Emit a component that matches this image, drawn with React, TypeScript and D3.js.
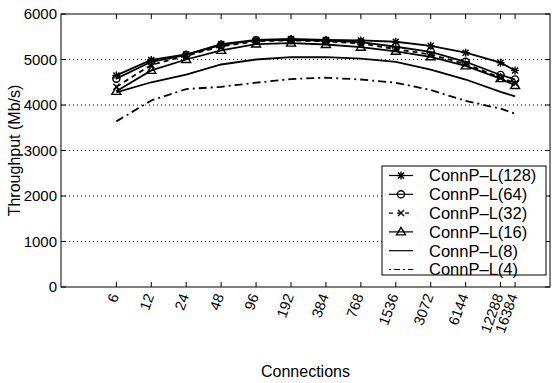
import React from "react";
import * as d3 from "d3";

const connections = [6, 12, 24, 48, 96, 192, 384, 768, 1536, 3072, 6144, 12288, 16384];
const p128 = [4650, 4990, 5110, 5340, 5430, 5450, 5430, 5420, 5390, 5300, 5150, 4930, 4760];
const p64 = [4580, 4950, 5100, 5320, 5420, 5430, 5410, 5380, 5280, 5170, 4950, 4660, 4560];
const p32 = [4400, 4880, 5080, 5290, 5400, 5420, 5400, 5350, 5230, 5110, 4900, 4600, 4480];
const p16 = [4300, 4760, 5000, 5200, 5340, 5360, 5330, 5270, 5180, 5060, 4860, 4580, 4430];
const p8 = [4280, 4500, 4670, 4890, 5000, 5050, 5050, 5020, 4950, 4780, 4560, 4290, 4190];
const p4 = [3640, 4100, 4350, 4400, 4490, 4570, 4600, 4560, 4490, 4330, 4090, 3920, 3810];
const seriesNames = ["ConnP\u2013L(128)", "ConnP\u2013L(64)", "ConnP\u2013L(32)", "ConnP\u2013L(16)", "ConnP\u2013L(8)", "ConnP\u2013L(4)"];
const yTicks = [0, 1000, 2000, 3000, 4000, 5000, 6000];

const W = 556, H = 383;
const L = 61, R = 550, T = 14, B = 287;
const FONT = "'Liberation Sans', Arial, Helvetica, sans-serif";

type Style = { dash: string; marker: string };
const styles: Style[] = [
  { dash: "none", marker: "star" },
  { dash: "none", marker: "circle" },
  { dash: "5,4", marker: "x" },
  { dash: "none", marker: "tri" },
  { dash: "none", marker: "none" },
  { dash: "8,4,2,4", marker: "none" },
];

function Marker({ type, x, y }: { type: string; x: number; y: number }) {
  const s = 4;
  const st = { stroke: "#000", strokeWidth: 1.4, fill: "none" };
  if (type === "star")
    return (
      <g {...st}>
        <line x1={x - s} y1={y} x2={x + s} y2={y} />
        <line x1={x} y1={y - s} x2={x} y2={y + s} />
        <line x1={x - 3} y1={y - 3} x2={x + 3} y2={y + 3} />
        <line x1={x - 3} y1={y + 3} x2={x + 3} y2={y - 3} />
      </g>
    );
  if (type === "circle") return <circle cx={x} cy={y} r={3.6} {...st} />;
  if (type === "x")
    return (
      <g {...st}>
        <line x1={x - 3} y1={y - 3} x2={x + 3} y2={y + 3} />
        <line x1={x - 3} y1={y + 3} x2={x + 3} y2={y - 3} />
      </g>
    );
  if (type === "tri")
    return <path d={`M${x},${y - 4.5}L${x + 4.5},${y + 3}L${x - 4.5},${y + 3}Z`} {...st} />;
  return null;
}

export default function App() {
  const x = d3.scaleLog().base(2).domain([2, 32768]).range([L, R]);
  const y = d3.scaleLinear().domain([0, 6000]).range([B, T]);
  const series = [p128, p64, p32, p16, p8, p4];
  const line = d3
    .line<number>()
    .x((_, i) => x(connections[i]))
    .y((d) => y(d));

  const legX = 382, legY = 166, legW = 164, legH = 109;
  const rowH = 18.8;

  return (
    <svg width={W} height={H} style={{ position: "absolute", left: 0, top: 0, background: "#fff" }} fontFamily={FONT}>
      <rect x={0} y={0} width={W} height={H} fill="#fff" />
      {yTicks.filter((t) => t > 0 && t < 6000).map((t) => (
        <line key={"g" + t} x1={L} x2={R} y1={y(t)} y2={y(t)} stroke="#000" strokeWidth={1} strokeDasharray="1,3" />
      ))}
      {yTicks.map((t) => (
        <g key={"y" + t}>
          <line x1={L} x2={L + 5} y1={y(t)} y2={y(t)} stroke="#000" />
          <line x1={R} x2={R - 5} y1={y(t)} y2={y(t)} stroke="#000" />
          <text x={L - 4} y={y(t)} dy="0.36em" textAnchor="end" fontSize={15}>
            {t}
          </text>
        </g>
      ))}
      {connections.map((c) => (
        <g key={"x" + c}>
          <line x1={x(c)} x2={x(c)} y1={B} y2={B - 5} stroke="#000" />
          <line x1={x(c)} x2={x(c)} y1={T} y2={T + 5} stroke="#000" />
          <text transform={`translate(${x(c) + 3},${296}) rotate(-70)`} textAnchor="end" fontSize={14.5}>
            {c}
          </text>
        </g>
      ))}
      {series.map((s, si) => (
        <g key={"s" + si}>
          <path d={line(s) || ""} fill="none" stroke="#000" strokeWidth={1.8} strokeDasharray={styles[si].dash} />
          {s.map((v, i) => (
            <Marker key={i} type={styles[si].marker} x={x(connections[i])} y={y(v)} />
          ))}
        </g>
      ))}
      <rect x={L} y={T} width={R - L} height={B - T} fill="none" stroke="#000" strokeWidth={1} />
      <rect x={legX} y={legY} width={legW} height={legH} fill="#fff" stroke="#000" strokeWidth={1} />
      {seriesNames.map((n, i) => {
        const cy = legY + 9.5 + i * rowH;
        return (
          <g key={"l" + i}>
            <line x1={389} x2={413} y1={cy} y2={cy} stroke="#000" strokeWidth={1.2} strokeDasharray={styles[i].dash === "8,4,2,4" ? "2,3,6,3" : styles[i].dash === "none" ? "none" : "4,4"} />
            <Marker type={styles[i].marker} x={401} y={cy} />
            <text x={429} y={cy} dy="0.36em" fontSize={16.5}>
              {n}
            </text>
          </g>
        );
      })}
      <text x={(L + R) / 2} y={377} textAnchor="middle" fontSize={16}>
        Connections
      </text>
      <text transform={`translate(20,${(T + B) / 2}) rotate(-90)`} textAnchor="middle" fontSize={16}>
        Throughput (Mb/s)
      </text>
    </svg>
  );
}
